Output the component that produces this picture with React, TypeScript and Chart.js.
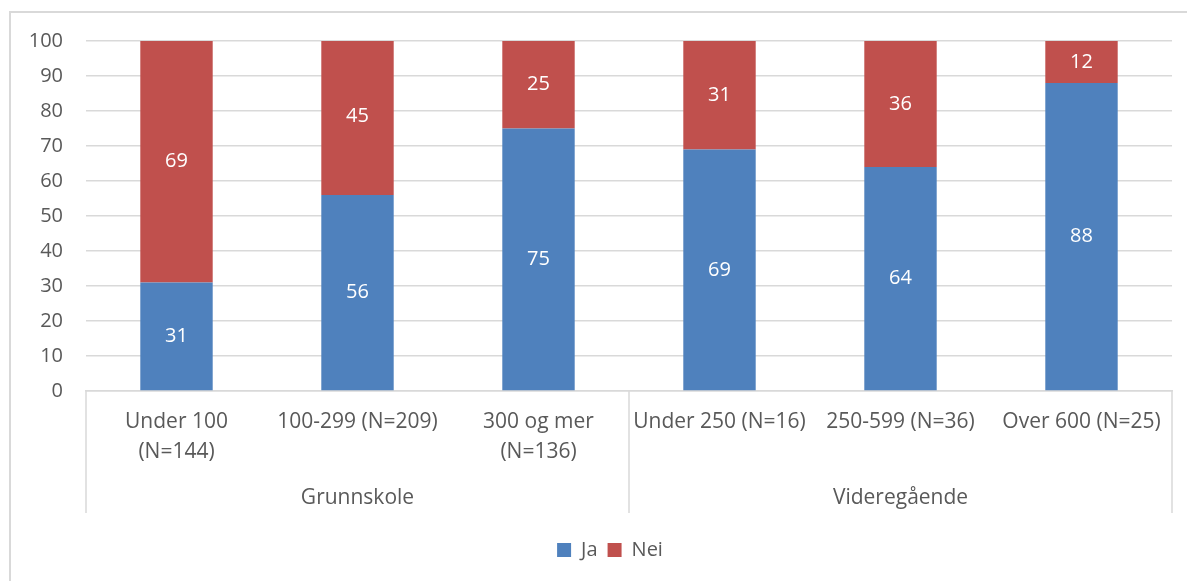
import React, { useEffect, useRef } from "react";
import { Chart, registerables } from "chart.js";

Chart.register(...registerables);

const categories: string[][] = [
  ["Under 100", "(N=144)"],
  ["100-299 (N=209)"],
  ["300 og mer", "(N=136)"],
  ["Under 250 (N=16)"],
  ["250-599 (N=36)"],
  ["Over 600 (N=25)"],
];
const groups = ["Grunnskole", "Videregående"];
const groupSizes = [3, 3];
const ja = [31, 56, 75, 69, 64, 88];
const nei = [69, 45, 25, 31, 36, 12];
const seriesNames = ["Ja", "Nei"];

const TEXT = "#595959";
const GRID = "#d9d9d9";
const FONT = "'Open Sans', sans-serif";

const dataLabels = {
  id: "dataLabels",
  afterDatasetsDraw(chart: any) {
    const ctx = chart.ctx;
    ctx.save();
    ctx.fillStyle = "#ffffff";
    ctx.font = `20px ${FONT}`;
    ctx.textAlign = "center";
    ctx.textBaseline = "middle";
    chart.data.datasets.forEach((ds: any, di: number) => {
      const meta = chart.getDatasetMeta(di);
      meta.data.forEach((el: any, i: number) => {
        const v = ds.data[i];
        const y = (el.y + el.base) / 2;
        ctx.fillText(String(v), el.x, y);
      });
    });
    ctx.restore();
  },
};

const groupAxis = {
  id: "groupAxis",
  afterDraw(chart: any) {
    const ctx = chart.ctx;
    const xs = chart.scales.x;
    const { left, right, bottom } = chart.chartArea;
    const lineBottom = bottom + 122;
    const bounds: number[] = [left];
    let idx = 0;
    groupSizes.forEach((n, g) => {
      idx += n;
      if (g < groupSizes.length - 1) {
        bounds.push((xs.getPixelForValue(idx - 1) + xs.getPixelForValue(idx)) / 2);
      }
    });
    bounds.push(right);
    ctx.save();
    ctx.strokeStyle = GRID;
    ctx.lineWidth = 1.5;
    bounds.forEach((b) => {
      ctx.beginPath();
      ctx.moveTo(b, bottom);
      ctx.lineTo(b, lineBottom);
      ctx.stroke();
    });
    ctx.fillStyle = TEXT;
    ctx.font = `21px ${FONT}`;
    ctx.textAlign = "center";
    ctx.textBaseline = "middle";
    groups.forEach((g, i) => {
      ctx.fillText(g, (bounds[i] + bounds[i + 1]) / 2, bottom + 107);
    });
    ctx.restore();
  },
};

export default function App() {
  const ref = useRef<HTMLCanvasElement>(null);
  useEffect(() => {
    if (!ref.current) return;
    const chart = new Chart(ref.current, {
      type: "bar",
      data: {
        labels: categories,
        datasets: [
          { label: seriesNames[0], data: ja, backgroundColor: "#4f81bd", borderWidth: 0 },
          { label: seriesNames[1], data: nei, backgroundColor: "#c0504d", borderWidth: 0 },
        ],
      },
      options: {
        responsive: false,
        animation: false,
        layout: { padding: { top: 41, left: 0, right: 0, bottom: 11 } },
        datasets: { bar: { barPercentage: 0.4, categoryPercentage: 1 } },
        plugins: {
          tooltip: { enabled: false },
          legend: {
            position: "bottom",
            labels: {
              boxWidth: 14,
              boxHeight: 14,
              padding: 10,
              color: TEXT,
              font: { family: FONT, size: 20 },
            },
          },
        },
        scales: {
          x: {
            stacked: true,
            grid: { display: false, drawTicks: false },
            border: { display: true, color: GRID, width: 1.5 },
            ticks: {
              autoSkip: false,
              maxRotation: 0,
              minRotation: 0,
              padding: 16,
              color: TEXT,
              font: { family: FONT, size: 21, lineHeight: 1.43 },
            },
            afterFit: (s: any) => {
              s.height = 139;
            },
          },
          y: {
            stacked: true,
            min: 0,
            max: 100,
            grid: { color: GRID, lineWidth: 1.5, drawTicks: false },
            border: { display: false },
            ticks: {
              stepSize: 10,
              padding: 23,
              color: TEXT,
              font: { family: FONT, size: 20 },
            },
            afterFit: (s: any) => {
              s.width = 86;
            },
          },
          yRight: {
            type: "linear",
            position: "right",
            display: true,
            grid: { display: false, drawTicks: false },
            border: { display: false },
            ticks: { display: false },
            afterFit: (s: any) => {
              s.width = 48;
            },
          },
        },
      },
      plugins: [dataLabels, groupAxis],
    });
    return () => chart.destroy();
  }, []);
  return (
    <div
      style={{
        position: "absolute",
        left: 0,
        top: 0,
        width: 1187,
        height: 581,
        overflow: "hidden",
        background: "#fff",
      }}
    >
      <div
        style={{
          position: "absolute",
          left: 9,
          top: 11,
          width: 1400,
          height: 800,
          border: `2px solid ${GRID}`,
        }}
      />
      <canvas
        ref={ref}
        width={1220}
        height={581}
        style={{ position: "absolute", left: 0, top: 0, width: 1220, height: 581 }}
      />
    </div>
  );
}
